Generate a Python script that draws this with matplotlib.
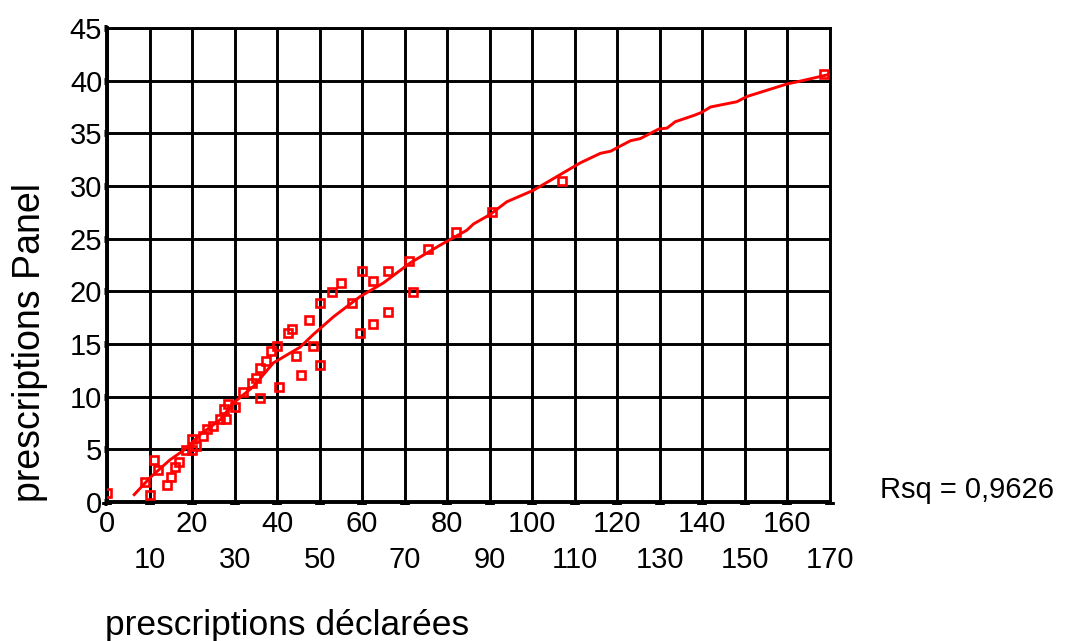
import matplotlib
matplotlib.use("Agg")
from matplotlib import pyplot as plt
from matplotlib.ticker import FixedLocator, FixedFormatter

plt.rcParams['font.family'] = ['Liberation Sans', 'DejaVu Sans']

#
# observed points (declared vs panel prescriptions)
#
declared = [0, 9, 10, 11, 12, 14, 15, 16, 17, 18.5, 20, 20, 21, 22.5, 23.5, 25,
            26.5, 28, 27.5, 28.5, 30, 32, 34, 35, 36, 36, 37.5, 38.5, 40, 40.5,
            42.5, 43.5, 44.5, 45.5, 47.5, 48.5, 50, 50, 53, 55, 57.5, 59.5, 60,
            62.5, 62.5, 66, 66, 71, 72, 75.5, 82, 90.5, 107, 168.5]
panel = [0.9, 1.9, 0.7, 4.0, 3.0, 1.6, 2.4, 3.3, 3.8, 4.9, 4.9, 6.0, 5.3, 6.3,
         6.9, 7.2, 7.9, 7.9, 8.8, 9.3, 9.0, 10.4, 11.3, 11.8, 9.9, 12.7, 13.4,
         14.3, 14.8, 10.9, 16.0, 16.4, 13.9, 12.1, 17.3, 14.8, 18.9, 13.0, 19.9,
         20.8, 18.9, 16.0, 21.9, 21.0, 16.9, 21.9, 18.0, 22.9, 19.9, 24.0, 25.6,
         27.5, 30.5, 40.6]

#
# fitted curve
#
fit_x = [6.4, 10.1, 14.8, 18, 21.9, 26.6, 29.7, 34.4, 39.1, 45.4, 48.5, 53.3,
         59.5, 65, 71.3, 78.4, 84.6, 86.2, 90.1, 94, 100.3, 105.8, 111.3, 116,
         118.4, 123.1, 125.4, 129.7, 131.7, 133.6, 138, 139.9, 141.9, 148.1,
         150.5, 160, 162.4, 171]
fit_y = [0.7, 2.3, 4.0, 4.9, 6.4, 7.8, 9.4, 10.95, 13.2, 14.7, 15.9, 17.6,
         19.5, 20.8, 22.7, 24.4, 25.8, 26.4, 27.3, 28.5, 29.6, 30.9, 32.2, 33.1,
         33.3, 34.3, 34.5, 35.4, 35.5, 36.1, 36.7, 37.0, 37.5, 38.0, 38.5, 39.7,
         39.9, 40.7]

xticks_top = [0, 20, 40, 60, 80, 100, 120, 140, 160]
xticks_bottom = [10, 30, 50, 70, 90, 110, 130, 150, 170]
yticks = [0, 5, 10, 15, 20, 25, 30, 35, 40, 45]
rsq = '0,9626'

fig = plt.figure(figsize=(10.65, 6.41), dpi=100)
ax = fig.add_axes([107 / 1065, 1 - 502 / 641, 723 / 1065, 474 / 641])

ax.plot(fit_x, fit_y, color='#ff0000', lw=2.1, zorder=3)
ax.plot(declared, panel, 's', ms=6, mfc='none', mec='#ff0000', mew=1.9, zorder=4)

ax.set_xlim(0, 170)
ax.set_ylim(0, 45)

ax.xaxis.set_major_locator(FixedLocator(xticks_top))
ax.xaxis.set_major_formatter(FixedFormatter([str(v) for v in xticks_top]))
ax.xaxis.set_minor_locator(FixedLocator(xticks_bottom))
ax.xaxis.set_minor_formatter(FixedFormatter([str(v) for v in xticks_bottom]))
ax.set_yticks(yticks)
ax.set_yticklabels([str(v) for v in yticks])

ax.tick_params(axis='x', which='both', direction='out', length=2.5, width=7,
               labelsize=21, color='black')
ax.tick_params(axis='x', which='major', pad=3)
ax.tick_params(axis='x', which='minor', pad=29)
ax.tick_params(axis='y', direction='out', length=2.5, width=5, labelsize=21,
               pad=1)

ax.grid(True, which='both', color='black', lw=2.1)
ax.set_axisbelow(True)
for side in ['top', 'right']:
    ax.spines[side].set_linewidth(2.1)
for side in ['left', 'bottom']:
    ax.spines[side].set_linewidth(2.8)

fig.text(30 / 1065, 1 - 342 / 641, 'prescriptions Panel', rotation=90,
         ha='center', va='center', fontsize=27)
fig.text(105 / 1065, 1 - 625 / 641, 'prescriptions déclarées',
         ha='left', va='center', fontsize=25.5)
fig.text(880 / 1065, 1 - 490 / 641, 'Rsq = ' + rsq,
         ha='left', va='center', fontsize=21)

fig.savefig('out.png', dpi=100)
